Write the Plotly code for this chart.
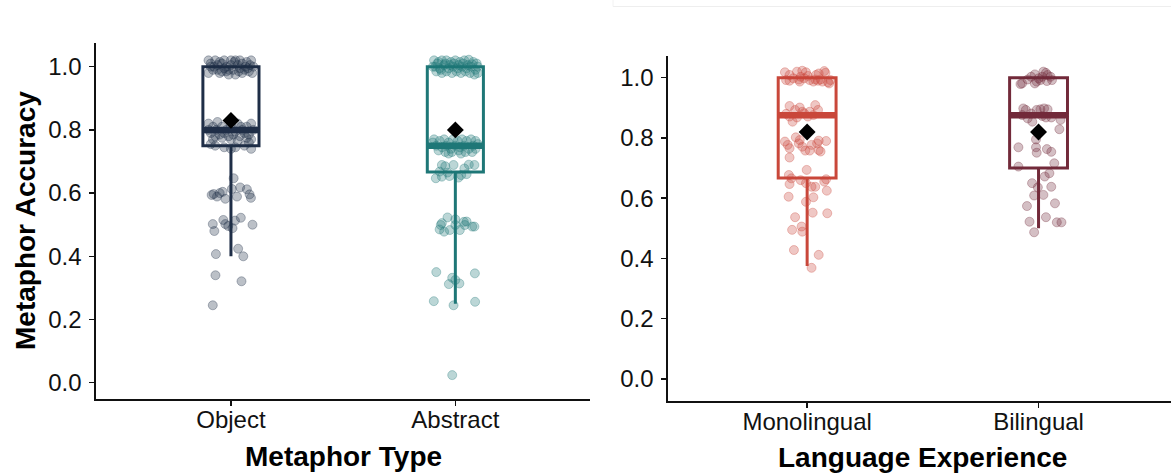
import plotly.graph_objects as go

W, H = 1171, 473

# ---------------- data ----------------
type_categories = ["Object", "Abstract"]
lang_categories = ["Monolingual", "Bilingual"]
y_ticks = [0.0, 0.2, 0.4, 0.6, 0.8, 1.0]

type_colors = ["#1F2E47", "#1E7777"]
lang_colors = ["#C9473A", "#722A3A"]

# box statistics
type_q1 = [0.75, 0.667]
type_median = [0.80, 0.75]
type_q3 = [1.0, 1.0]
type_lowerfence = [0.40, 0.25]
type_upperfence = [1.0, 1.0]
type_mean = [0.83, 0.80]

lang_q1 = [0.667, 0.70]
lang_median = [0.875, 0.875]
lang_q3 = [1.0, 1.0]
lang_lowerfence = [0.375, 0.50]
lang_upperfence = [1.0, 1.0]
lang_mean = [0.82, 0.82]

# jittered participants (horizontal offset from category centre, accuracy)
object_jitter = [
    -0.10, -0.09, -0.07, -0.05, -0.03, 0.0, 0.02, 0.04, 0.07, 0.09,
    -0.09, -0.06, -0.04, -0.01, 0.01, 0.04, 0.06, 0.08, 0.095, -0.05,
    -0.01, 0.02, 0.05, 0.065, -0.06, -0.02, 0.03, -0.08, 0.085, 0.0,
    -0.04, 0.05, -0.1, 0.1, -0.02, 0.075, 0.015, -0.075, 0.035, -0.03,
    -0.10, -0.08, -0.06, -0.04, -0.02, 0.0, 0.03, 0.05, 0.07, 0.09,
    -0.09, -0.07, -0.05, -0.03, 0.01, 0.02, 0.04, 0.06, 0.08, 0.1,
    -0.08, -0.04, 0.0, 0.03, 0.07, 0.09, -0.1, -0.065, 0.045, -0.01,
    -0.07, -0.03, 0.02, 0.06, 0.09, -0.09, 0.0, 0.08,
    0.012, -0.077, -0.062, -0.037, -0.025, 0.004, 0.027, 0.041, 0.071, 0.083, 0.089, -0.086, -0.05,
    -0.081, -0.074, -0.034, -0.025, -0.012, 0.007, 0.018, 0.044, 0.096,
    -0.067, 0.032, 0.055, -0.069, 0.047, -0.081,
]
object_accuracy = [
    1.02, 1.01, 1.02, 1.015, 1.02, 1.02, 1.02, 1.02, 1.015, 1.02,
    1.0, 0.99, 0.985, 0.99, 0.99, 0.995, 0.99, 0.985, 0.98, 0.98,
    0.975, 0.975, 0.98, 1.0, 1.005, 1.0, 1.005, 0.99, 1.005, 1.005,
    1.01, 1.01, 0.98, 1.0, 0.985, 0.995, 1.015, 1.0, 0.985, 0.995,
    0.82, 0.81, 0.825, 0.81, 0.8, 0.815, 0.82, 0.8, 0.81, 0.82,
    0.79, 0.78, 0.785, 0.79, 0.785, 0.795, 0.78, 0.79, 0.785, 0.8,
    0.77, 0.775, 0.77, 0.765, 0.775, 0.77, 0.8, 0.8, 0.81, 0.78,
    0.75, 0.745, 0.745, 0.75, 0.74, 0.755, 0.74, 0.76,
    0.647, 0.597, 0.589, 0.604, 0.582, 0.613, 0.589, 0.618, 0.612, 0.596, 0.585, 0.594, 0.60,
    0.502, 0.480, 0.515, 0.502, 0.496, 0.489, 0.513, 0.522, 0.500,
    0.407, 0.424, 0.400, 0.340, 0.321, 0.245,
]

abstract_jitter = [
    -0.095, -0.075, -0.06, -0.04, -0.02, 0.0, 0.02, 0.04, 0.06, 0.08, 0.095,
    -0.09, -0.07, -0.05, -0.03, -0.01, 0.01, 0.03, 0.05, 0.07, 0.09,
    -0.085, -0.06, -0.04, -0.015, 0.005, 0.025, 0.045, 0.065, 0.085, 0.1,
    -0.08, -0.045, -0.005, 0.035, 0.075, -0.1, 0.055, -0.025, 0.015, -0.065, 0.1,
    -0.095, -0.07, -0.05, -0.03, -0.01, 0.01, 0.03, 0.05, 0.07, 0.09,
    -0.085, -0.06, -0.04, -0.02, 0.0, 0.02, 0.04, 0.06, 0.08, 0.1,
    -0.075, -0.045, -0.015, 0.015, 0.045, 0.075, 0.09, -0.1, 0.025, -0.03,
    -0.06, -0.045, -0.008, 0.04, 0.085, -0.087, -0.06, -0.026, 0.014, 0.026, -0.07, 0.06, -0.035, 0.05,
    -0.035, 0.0, -0.065, -0.07, -0.025, 0.02, 0.038, 0.042, 0.075, 0.0, -0.05, -0.06, 0.05, 0.085,
    -0.085, 0.087, -0.014, -0.029, 0.018, 0.0, -0.096, -0.008, 0.088, -0.014,
]
abstract_accuracy = [
    1.02, 1.015, 1.02, 1.02, 1.015, 1.02, 1.015, 1.02, 1.022, 1.015, 1.01,
    1.0, 0.995, 1.005, 0.995, 1.0, 0.995, 1.0, 0.995, 1.0, 0.99,
    0.985, 0.98, 0.985, 0.98, 0.985, 0.98, 0.985, 0.98, 0.975, 0.98,
    1.01, 1.01, 1.01, 1.01, 1.008, 1.0, 1.005, 1.005, 1.005, 0.99, 1.0,
    0.77, 0.765, 0.77, 0.76, 0.77, 0.765, 0.77, 0.765, 0.77, 0.765,
    0.75, 0.745, 0.75, 0.74, 0.75, 0.745, 0.75, 0.74, 0.75, 0.755,
    0.735, 0.73, 0.73, 0.735, 0.73, 0.73, 0.74, 0.76, 0.725, 0.725,
    0.689, 0.685, 0.689, 0.678, 0.689, 0.647, 0.652, 0.654, 0.649, 0.657, 0.668, 0.69, 0.665, 0.66,
    0.523, 0.517, 0.499, 0.485, 0.483, 0.483, 0.509, 0.499, 0.494, 0.499, 0.478, 0.505, 0.51, 0.494,
    0.350, 0.346, 0.332, 0.312, 0.314, 0.325, 0.258, 0.245, 0.256, 0.024,
]

mono_jitter = [
    -0.096, -0.076, -0.044, -0.021, -0.005, -0.091, -0.060, -0.036, -0.013, 0.011,
    0.038, 0.050, 0.074, 0.079, 0.047, 0.066, 0.090, 0.101, 0.095, 0.035,
    -0.028, 0.003, 0.027, 0.058, -0.076, -0.032,
    -0.076, -0.052, -0.032, -0.021, -0.091, -0.063, 0.035, 0.047, 0.027, 0.003, -0.013, -0.044, 0.011, -0.076,
    -0.096, -0.084, -0.076, -0.076, -0.049, -0.036, -0.021, -0.008, 0.011, 0.019, 0.043, 0.050, 0.058, 0.082, 0.050, -0.032,
    -0.002, -0.079, -0.068, -0.076, -0.028, -0.005, 0.019, 0.035, 0.074, 0.082, 0.085,
    -0.080, -0.005, 0.027, 0.024, 0.087, -0.052, -0.065, -0.024, -0.021, -0.057, 0.050, 0.019,
]
mono_accuracy = [
    1.018, 1.009, 1.020, 1.023, 1.018, 0.992, 0.998, 0.994, 0.998, 0.992,
    1.009, 1.014, 1.022, 1.016, 0.990, 0.987, 0.985, 0.992, 0.981, 0.994,
    1.003, 1.006, 0.987, 0.994, 0.990, 0.987,
    0.906, 0.893, 0.901, 0.887, 0.880, 0.854, 0.909, 0.893, 0.876, 0.871, 0.882, 0.868, 0.887, 0.871,
    0.788, 0.777, 0.766, 0.735, 0.802, 0.782, 0.771, 0.758, 0.758, 0.777, 0.782, 0.760, 0.755, 0.790, 0.791, 0.793,
    0.694, 0.677, 0.666, 0.647, 0.660, 0.650, 0.638, 0.638, 0.655, 0.663, 0.625,
    0.605, 0.588, 0.603, 0.552, 0.550, 0.537, 0.495, 0.506, 0.489, 0.428, 0.412, 0.369,
]

bi_jitter = [
    -0.071, -0.047, -0.016, -0.008, 0.008, 0.021, 0.032, 0.036, 0.052, 0.058, -0.032, -0.016, 0.016, 0.039, 0.0, -0.078,
    -0.066, -0.055, -0.032, -0.008, 0.008, 0.024, 0.039, 0.055, 0.095, 0.090, -0.027, -0.071, -0.047, 0.016, 0.032,
    -0.011, -0.087, -0.011, -0.008, 0.036, 0.055, -0.087, 0.068, 0.047, 0.027, -0.028,
    -0.003, 0.055, -0.019, 0.021, -0.050, 0.071, 0.032, -0.039, 0.079, 0.099, -0.019,
]
bi_accuracy = [
    0.981, 0.994, 1.011, 0.987, 0.992, 1.020, 1.016, 0.989, 1.003, 0.992, 1.003, 0.981, 1.003, 1.009, 0.998, 0.979,
    0.898, 0.893, 0.881, 0.893, 0.895, 0.898, 0.895, 0.868, 0.860, 0.829, 0.854, 0.876, 0.865, 0.873, 0.868,
    0.795, 0.769, 0.769, 0.751, 0.763, 0.754, 0.705, 0.716, 0.683, 0.672, 0.650,
    0.636, 0.638, 0.609, 0.611, 0.574, 0.583, 0.537, 0.522, 0.520, 0.520, 0.487,
]

# ---------------- styling ----------------
FONT = "Liberation Sans, Arial, Helvetica, sans-serif"
BOX_WIDTH = 0.25
BOX_LINE = 3
MEDIAN_LINE = 6.5
POINT_SIZE = 9


def rgba(hex_color, a):
    h = hex_color.lstrip("#")
    r, g, b = int(h[0:2], 16), int(h[2:4], 16), int(h[4:6], 16)
    return f"rgba({r},{g},{b},{a})"


fig = go.Figure()


def add_panel(xa, ya, cats, colors, jitters, accs, q1, med, q3, lf, uf, mean):
    for i, cat in enumerate(cats):
        pos = i + 1
        fig.add_trace(go.Scatter(
            x=[pos + j for j in jitters[i]], y=accs[i], mode="markers",
            xaxis=xa, yaxis=ya, showlegend=False, hoverinfo="skip",
            marker=dict(size=POINT_SIZE, color=rgba(colors[i], 0.30),
                        line=dict(color=rgba(colors[i], 0.32), width=1)),
        ))
        fig.add_trace(go.Box(
            x=[pos], q1=[q1[i]], median=[med[i]], q3=[q3[i]],
            lowerfence=[lf[i]], upperfence=[uf[i]],
            width=BOX_WIDTH, whiskerwidth=0, boxpoints=False,
            line=dict(color=colors[i], width=BOX_LINE),
            fillcolor="rgba(0,0,0,0)", xaxis=xa, yaxis=ya,
            showlegend=False, hoverinfo="skip",
        ))
        fig.add_trace(go.Scatter(
            x=[pos - BOX_WIDTH / 2, pos + BOX_WIDTH / 2], y=[med[i], med[i]],
            mode="lines", line=dict(color=colors[i], width=MEDIAN_LINE),
            xaxis=xa, yaxis=ya, showlegend=False, hoverinfo="skip",
        ))
        fig.add_trace(go.Scatter(
            x=[pos], y=[mean[i]], mode="markers",
            marker=dict(symbol="diamond", size=13, color="black"),
            xaxis=xa, yaxis=ya, showlegend=False, hoverinfo="skip",
        ))


add_panel("x", "y", type_categories, type_colors,
          [object_jitter, abstract_jitter], [object_accuracy, abstract_accuracy],
          type_q1, type_median, type_q3, type_lowerfence, type_upperfence, type_mean)
add_panel("x2", "y2", lang_categories, lang_colors,
          [mono_jitter, bi_jitter], [mono_accuracy, bi_accuracy],
          lang_q1, lang_median, lang_q3, lang_lowerfence, lang_upperfence, lang_mean)

axis_common = dict(showgrid=False, zeroline=False, showline=True, linecolor="#111111",
                   linewidth=2, ticks="outside", ticklen=5, tickwidth=1.5,
                   tickcolor="#111111", tickfont=dict(family=FONT, size=24, color="#111111"))
x_axis_style = dict(axis_common, ticklabelstandoff=-7)
y_axis_style = dict(axis_common, ticklabelstandoff=3)

# pixel geometry -> paper coords
L_x0, L_x1, L_top, L_bot = 96.3, 590.0, 43.3, 399.3
R_x0, R_top, R_bot = 668.3, 56.0, 401.0
R_unit = 231.4

fig.update_layout(
    width=W, height=H, margin=dict(l=0, r=0, t=0, b=0),
    paper_bgcolor="white", plot_bgcolor="white",
    xaxis=dict(domain=[L_x0 / W, L_x1 / W], range=[0.4, 2.6],
               tickvals=[1, 2], ticktext=type_categories, anchor="y", **x_axis_style),
    yaxis=dict(domain=[1 - L_bot / H, 1 - L_top / H], range=[-0.0525, 1.074],
               tickvals=y_ticks, tickformat=".1f", anchor="x", **y_axis_style),
    xaxis2=dict(domain=[R_x0 / W, 1.0], range=[0.4, 0.4 + (W - R_x0) / R_unit],
                tickvals=[1, 2], ticktext=lang_categories, anchor="y2", **x_axis_style),
    yaxis2=dict(domain=[1 - R_bot / H, 1 - R_top / H], range=[-0.073, 1.072],
                tickvals=y_ticks, tickformat=".1f", anchor="x2", **y_axis_style),
    annotations=[
        dict(text="<b>Metaphor Type</b>", xref="paper", yref="paper",
             x=(L_x0 + L_x1) / 2 / W, y=1 - 456 / H, showarrow=False,
             font=dict(family=FONT, size=28, color="black"), xanchor="center", yanchor="middle"),
        dict(text="<b>Language Experience</b>", xref="paper", yref="paper",
             x=(R_x0 + R_x0 + 2.2 * R_unit) / 2 / W, y=1 - 457 / H, showarrow=False,
             font=dict(family=FONT, size=28, color="black"), xanchor="center", yanchor="middle"),
        dict(text="<b>Metaphor Accuracy</b>", xref="paper", yref="paper",
             x=26 / W, y=1 - 221 / H, showarrow=False, textangle=-90,
             font=dict(family=FONT, size=28, color="black"), xanchor="center", yanchor="middle"),
    ],
    shapes=[
        dict(type="line", xref="paper", yref="paper", x0=613 / W, x1=1.0,
             y0=1 - 6.5 / H, y1=1 - 6.5 / H, line=dict(color="#eeeeee", width=1)),
        dict(type="line", xref="paper", yref="paper", x0=613 / W, x1=613 / W,
             y0=1.0, y1=1 - 6.5 / H, line=dict(color="#f2f2f2", width=1)),
    ],
)

fig.write_html(
    "out.html",
    config={"displayModeBar": False, "staticPlot": True},
    post_script="document.body.style.margin='0';document.body.style.padding='0';"
                "document.documentElement.style.overflow='hidden';",
)
